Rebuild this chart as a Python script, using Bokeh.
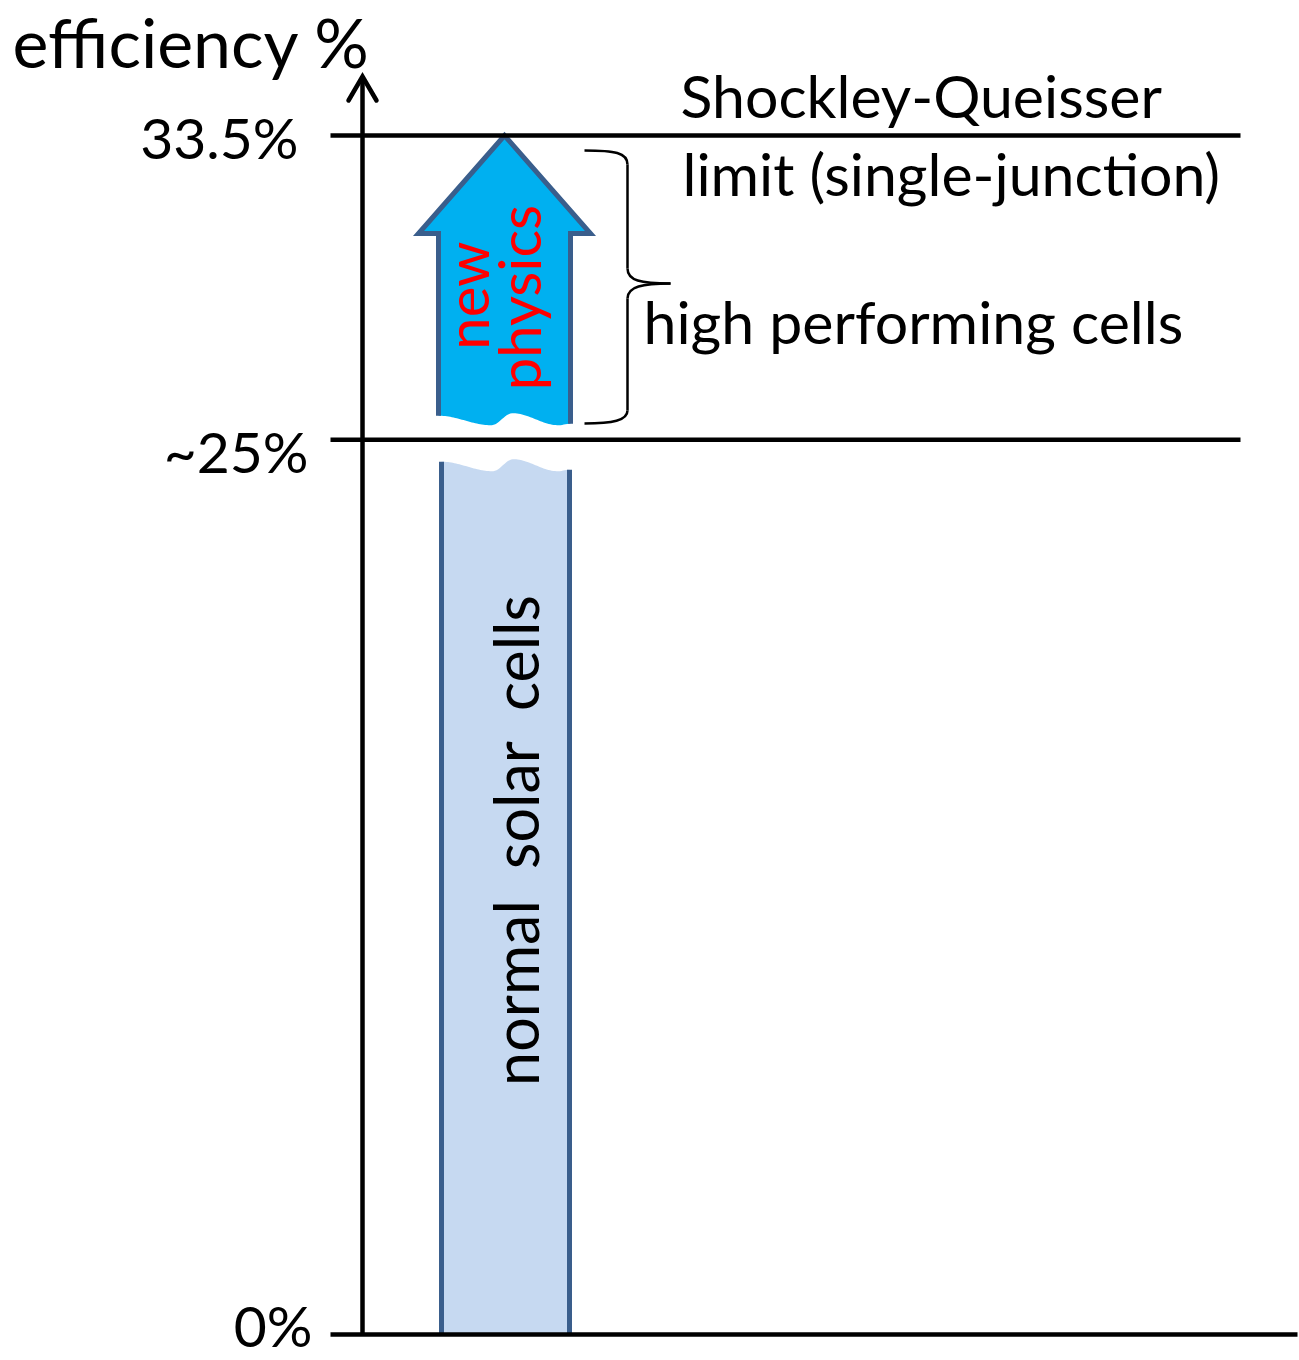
import numpy as np
from bokeh.plotting import figure
from bokeh.models import Range1d
from bokeh.core.properties import value
from bokeh.embed import file_html
from bokeh.resources import INLINE

# ---------------- data ----------------
levels = [0.0, 25.0, 33.5]
level_labels = ["0%", "~25%", "33.5%"]
normal_cells = [0.0, 25.0]      # efficiency span of normal solar cells
high_cells = [25.0, 33.5]       # span of high performing cells
axis_title = "efficiency %"
sq_label = ["Shockley-Queisser", "limit (single-junction)"]
high_label = "high performing cells"
normal_label = "normal\u00a0 solar\u00a0 cells"
arrow_label = ["new", "physics"]

# ---------------- layout helpers ----------------
W, H = 1299, 1360
Y0 = 1334.0                       # screen px of 0 %
K = (Y0 - 135.0) / 33.5            # px per percent
def yp(s):
    return (Y0 - s) / K
def dy(px):
    return px / K
BL = 0.38                          # baseline correction (em)

FONT = value("Lato")
BORDER = "#3A5E8C"
LIGHT = "#C6D9F1"
CYAN = "#00B0F0"

p = figure(width=W, height=H, x_range=Range1d(0, W),
           y_range=Range1d(yp(H), yp(0)),
           toolbar_location=None, output_backend="svg", min_border=0)
p.axis.visible = False
p.grid.visible = False
p.outline_line_color = None
p.background_fill_color = "white"
p.border_fill_color = "white"

def wave(x0, x1, n=80):
    # smooth double wave (offsets in px, downward positive)
    tp = [0.0, 0.40, 0.56, 0.91, 1.0]
    vp = [-4.0, 5.5, -6.5, 5.5, 4.0]
    t = np.linspace(0, 1, n)
    out = np.zeros(n)
    for i in range(len(tp) - 1):
        m = (t >= tp[i]) & (t <= tp[i + 1])
        u = (t[m] - tp[i]) / (tp[i + 1] - tp[i])
        w = (1 - np.cos(np.pi * u)) / 2
        out[m] = vp[i] + (vp[i + 1] - vp[i]) * w
    return x0 + t * (x1 - x0), out

# ---------------- normal solar cells bar ----------------
bx0, bx1 = 441, 569
wx, wo = wave(bx0, bx1)
top = normal_cells[1] - dy(26)
bar_x = list(wx) + [bx1, bx0]
bar_y = list(top - dy(wo)) + [normal_cells[0], normal_cells[0]]
p.patch(bar_x, bar_y, fill_color=LIGHT, line_color=None)
p.segment(x0=[bx0, bx1], y0=[normal_cells[0]] * 2, x1=[bx0, bx1],
          y1=[top - dy(wo[0]), top - dy(wo[-1])], line_color=BORDER, line_width=5)

# ---------------- high performing arrow ----------------
ax0, ax1 = 438, 570
cx = 504
wing = 86
head_base = high_cells[1] - dy(98)
bot = high_cells[0] + dy(20)
wx2, wo2 = wave(ax0, ax1)
arr_x = list(wx2) + [ax1, cx + wing, cx, cx - wing, ax0]
arr_y = list(bot - dy(wo2)) + [head_base, head_base, high_cells[1], head_base, head_base]
p.patch(arr_x, arr_y, fill_color=CYAN, line_color=None)
p.line([ax0, ax0, cx - wing, cx, cx + wing, ax1, ax1],
       [bot - dy(wo2[0]), head_base, head_base, high_cells[1], head_base, head_base, bot - dy(wo2[-1])],
       line_color=BORDER, line_width=5, line_join="miter")

# ---------------- axis & level lines ----------------
p.segment(x0=[330, 330, 330], y0=levels, x1=[1297, 1240, 1240], y1=levels,
          line_color="black", line_width=4.5)
p.line([362, 362], [levels[0], yp(76)], line_color="black", line_width=4.5)
p.line([348, 362, 376], [yp(100), yp(76), yp(100)], line_color="black",
       line_width=4.5, line_join="miter", line_cap="round")

# ---------------- brace ----------------
bxv, btip = 627, 670
ymid = yp(283)
p.bezier(x0=[584, bxv, btip, bxv], y0=[yp(150), yp(268), ymid, yp(410)],
         x1=[bxv, btip, bxv, 584], y1=[yp(164), ymid, yp(298), yp(423)],
         cx0=[614, bxv, 642, bxv], cy0=[yp(150), yp(280), ymid, yp(420)],
         cx1=[bxv, 640, bxv, 612], cy1=[yp(152), ymid, yp(286), yp(423)],
         line_color="black", line_width=2.5)
p.segment(x0=[bxv, bxv], y0=[yp(164), yp(298)], x1=[bxv, bxv], y1=[yp(268), yp(410)],
          line_color="black", line_width=2.5)

# ---------------- texts ----------------
def htext(xs, bases, texts, size, align="left", color="black"):
    p.text(x=xs, y=[yp(b - BL * size) for b in bases], text=texts, text_font=FONT,
           text_font_size=f"{size}px", text_align=align, text_baseline="alphabetic",
           text_color=color)

def vtext(bases, ys, texts, size, color="black"):
    p.text(x=[b - BL * size for b in bases], y=[yp(s) for s in ys], text=texts,
           text_font=FONT, text_font_size=f"{size}px", angle=np.pi / 2,
           text_align="center", text_baseline="alphabetic", text_color=color)

htext([12], [67], [axis_title], 68)
htext([312, 308, 298], [1346, 472, 158], level_labels, 57, align="right")
htext([680, 682], [117, 195], sq_label, 59)
htext([643], [343], [high_label], 59)
vtext([538], [840], [normal_label], 61)
vtext([488, 540], [295, 297], arrow_label, 58, color="red")

open("out.html", "w").write(file_html(p, INLINE))
